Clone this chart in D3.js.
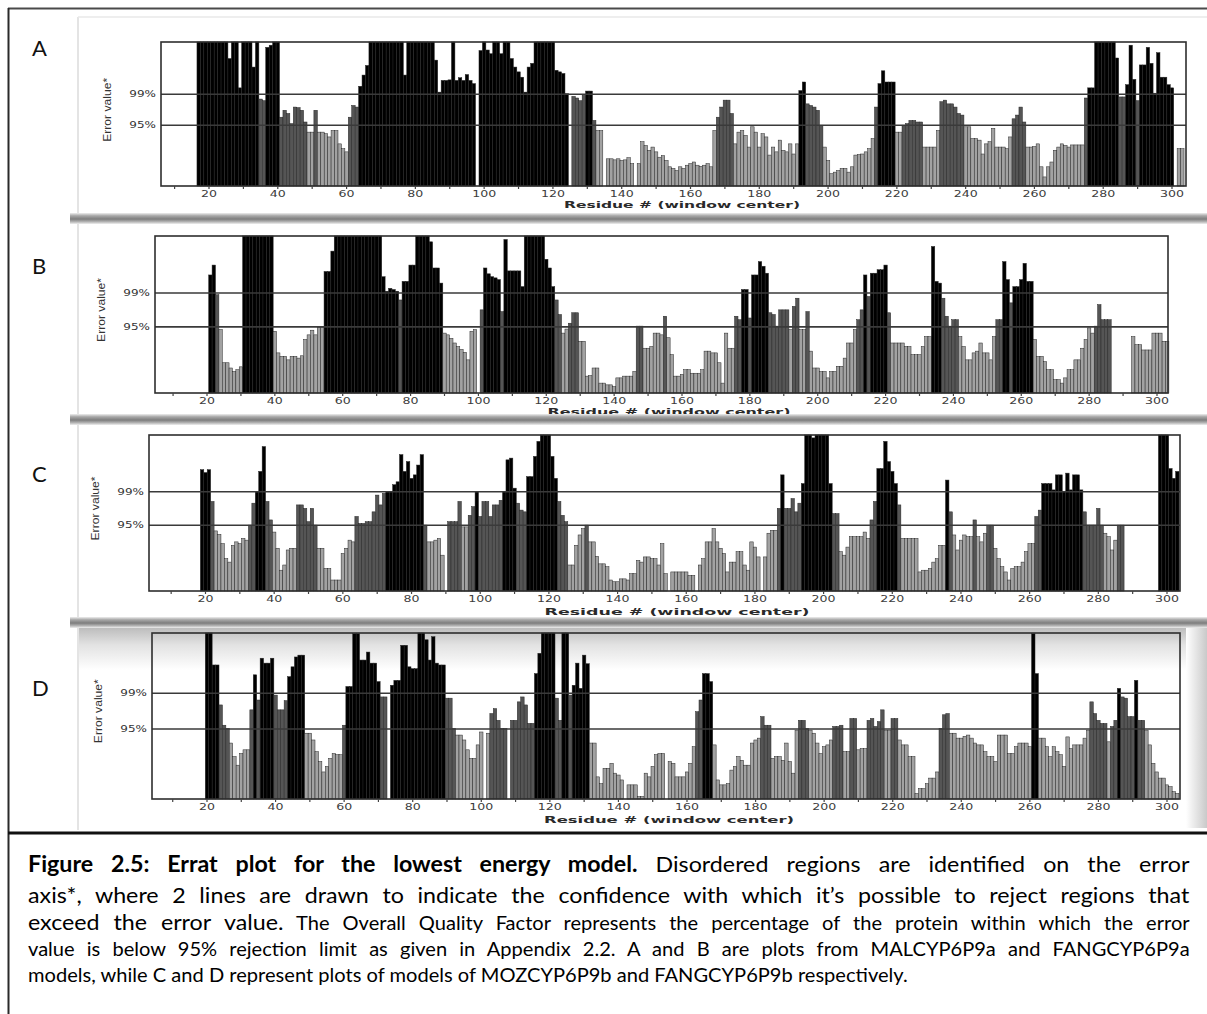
<!DOCTYPE html>
<html><head><meta charset="utf-8">
<script src="https://cdn.jsdelivr.net/npm/d3@7"></script>
<style>body{margin:0;background:#fff}svg{display:block}</style>
</head><body><div id="chart"></div>
<script>
// ---------------- DATA ----------------
const panelLabels = ["A", "B", "C", "D"];
const residueStart = [17, 21, 19, 20];

const valuesA = [27,27,27,27,27,27,27,27,27,23.9,27,27,18.4,27,27,27,22.3,27,16.3,16,26,26.4,27,27,
12.9,14.2,13.6,11.7,14.8,14.7,14.2,12,10.1,10.1,14.2,10.1,10.1,9.8,9.2,10.4,10.4,7.9,7,6.4,12.9,15.1,14.8,18.7,20.8,22.6,
27,27,27,27,27,27,27,27,27,27,20.8,27,27,27,27,27,27,27,27,
23.6,17.6,19.8,19.8,19.9,27,19.8,20.3,19.8,20.9,19.8,19.2,0,
25.4,27,25.5,24.8,27,27,24.8,27,27,23.9,22.3,21.4,20.4,17.6,22.3,23,27,27,27,27,27,27,
21.7,21.4,21.1,17.3,0,16.8,16.5,16,17,17.8,17.8,
12.3,10.4,10.4,0,5.1,5.1,4.9,5.1,4.8,4.9,5.3,4.2,0,4.2,8.3,7.6,6.7,7.3,6.4,5.4,5.7,4.8,3.6,3.3,2.9,3.6,3.3,3.9,4.2,4.5,3.9,3.7,3.9,4.2,3.6,
10.4,12.9,14.8,16.1,16.1,13.6,7.9,10.1,10.4,9.5,7.3,11.1,10.1,7.3,9.8,9.2,5.8,7.3,6.4,8.6,6.7,6.4,7.9,6,7.9,
17.9,19.5,15.4,15.1,14.8,14.2,11.4,7.3,4.8,2.3,2.6,2.9,3.3,3.3,2.6,3.6,5.8,5.9,6,6.4,7,8.9,
14.8,19.2,21.6,19.5,19.5,19.5,10.1,10.1,11.4,11.7,12.3,12.3,12,12,7.3,7.3,7.3,7.3,10.4,
15.8,16.1,15.4,15.4,14.8,13.6,13.3,11.1,11.1,8.9,8.9,8.6,6,7.9,8.3,10.8,7.3,7.3,7.3,7,9.2,
12.6,13.3,14.8,12,7.3,7.3,7.4,7.9,3.6,1.7,3.6,4.5,6.7,7.3,7.9,7.6,
7.3,7.7,7.7,7.7,7.7,16.5,18.4,18.4,27,27,27,27,27,27,24,16.7,16.7,19,26.4,20,16,22.7,22.7,26,23,17.4,25,20.4,20.4,19,18.4,0,7,7];

const valuesB = [20.3,22,16.9,10.9,5.2,5.2,4.3,3.7,4,4.5,
27,27,27,27,27,27,27,27,27,
10.6,6.9,6.3,6.3,5.7,6.3,6.3,6,6.4,9.2,10,10.8,10,11.3,11.3,20.9,20.9,24.4,
27,27,27,27,27,27,27,27,27,27,27,27,27,27,
20,17.5,18,17.8,17.5,16,19.2,19.2,22,22,27,27,27,27,
26,21.5,21.5,18.9,10.3,10,9.4,8.6,8,7.5,7,5.7,10.6,10.9,0,14.3,21.5,20.5,20,19.8,19.5,14,26.4,21,21,21,21,18.3,
27,27,27,27,27,27,
23,21.5,18.3,16,13.5,10.3,11,12,13.8,13.8,8.9,8.9,2.9,3,4.3,
4.3,1.7,1.7,1.4,1.4,1.1,2.6,2.6,2.9,2.9,2.9,3.7,11.5,11.5,7.7,7.7,8,10.3,10.3,10,13.2,9.5,6.6,2.9,2.9,3.2,4,4,3.4,3.4,3.4,4,
7.2,7.2,6.9,6.9,5.2,1.7,10.3,7.7,7.7,13.2,12.6,17.8,17.8,12.9,20.3,20.3,22.6,21.8,20.6,13.8,13.5,11.5,14.3,14.3,14.3,10.9,14.9,16.3,10.9,10.9,14,7.2,
4.3,4.3,3.7,3.7,2.6,3.7,3.7,4.6,4.6,6,8.6,8.6,10.9,12.6,14.3,20.3,16.6,20.6,20.6,21.2,21.2,22,13.8,8.6,8.6,8.6,8.6,8,8,6.6,6.6,6.6,8,9.7,9.7,
25.2,19.2,18.9,16.3,13.2,11.5,12.6,12.6,9.7,8,5.7,5.7,6.9,7.2,8.6,6.9,6.9,5.7,9.7,12.6,12.6,22.6,19.5,15.5,18.3,18.3,19.5,22.3,19.2,19.2,
9.2,6.3,6.3,5.4,4,4,2.3,2.3,1.7,2.6,4,4,5.7,5.7,7.7,9.2,11.2,10.3,11.5,15.2,12.6,12.6,12.6,
null,null,null,null,null,null,
9.7,8.3,8.3,7.4,7.4,7.4,10.3,10.3,10.3,8.9,8.9];

const valuesC = [21,20.5,21,15.5,10.4,9.8,8.2,5.6,5,7.9,8.5,8.2,9.1,8.8,11.4,
15.2,17.2,20.7,25,15.5,12.3,10.2,7.4,3.6,4.5,7.1,7.4,7.4,14.9,14.9,14.3,12,14.3,11.4,7.4,7.4,3.9,3.9,1.9,1.9,1.9,6.5,7.4,8.8,8.5,
12.9,11.7,11.7,12,12,13.7,16.6,14.9,16.9,17.2,17.2,18.4,18.9,23.6,20.7,22.4,19.5,20.1,21.8,23.6,11.4,8.5,8.5,8.8,9.1,6.2,0,
12,12,12,15.5,11.1,11.1,13.1,14.6,17.2,12.9,15.5,15.5,12.9,14.9,14.9,15.7,17.2,22.7,23,17.8,15.2,14,13.7,19.8,19.8,23.3,25.9,
27,27,27,
23.3,19.5,15.5,13.1,12,4.5,4.5,7.9,9.7,10.8,11.4,8.5,8.5,6,
4.7,4.7,4.2,1.9,1.6,1.6,2.1,2.1,1.9,3,3,5.3,5,5.9,5.9,5.6,5.6,4.5,8.2,3,0,3.3,3.3,3.3,3.3,3.3,2.7,2.7,0,4.5,5.6,8.5,
8.5,10.8,8.5,7.4,6.5,3.3,5,5,6.8,6.8,4.5,3.6,8.5,7.6,5.9,0,5.9,10,10.5,10.5,14.3,20.1,14.3,14.3,16,13.7,15.2,18.6,
27,27,26.5,27,27,27,27,
18.6,13.4,13.4,6.8,6.2,7.6,9.4,9.4,9.4,9.4,10.2,9.1,12.3,15.5,21.2,21.2,25.9,22.4,20.7,18.6,14.9,9.1,9.1,9.1,9.1,9.1,3.3,3.6,3.6,3.9,5,5.6,7.9,7.9,
19.2,13.7,9.7,7.1,8.8,9.7,9.4,9.4,12.3,9.4,8.5,10,11.4,11.4,7.4,5.6,4.2,3.3,1.9,3.9,4.2,4.2,5,6.8,8.2,8.2,12.9,14,
18.6,18.6,18.6,17.5,20.1,20.1,17.2,20.4,17.5,20.1,20.1,17.5,13.7,11.4,11.4,11.4,14.3,11.4,10,9.4,7.1,8.8,11.4,11.4,
null,null,null,null,null,null,null,null,null,null,
27,27,27,21.2,19.5,20.7];

const valuesD = [27,27,21.8,21.8,15.3,12,11.5,9.1,6.9,5.5,7.4,8,8,14.5,20.2,16.1,22.9,22.1,22.1,22.9,16.9,14.5,14.5,16,19.9,21.5,23.1,23.4,23.4,
10.7,10.7,9.6,7.7,6.1,4.4,5.3,6.6,7.4,7.2,7.2,12,18.3,18.3,26.9,26.9,22.6,22.6,23.9,22.1,22.1,19.1,16.6,16.6,
0,
18.5,19.3,19.3,25,25,21.5,21.2,21.2,27,27,25.9,22.6,26.4,22.1,21.8,21.8,16.4,16.4,11.5,10.4,10.4,9.6,8,6.6,6.6,8.8,10.9,
0,
10.7,13.9,14.7,12.8,11.5,11.5,
0,
12.8,12.8,15.8,16.6,15.3,12.3,12.3,20.4,23.7,27,27,27,27,16.4,12.8,27,27,16.9,18.5,22.1,18,23.4,22,9.1,9.1,
3.6,2.5,5,5,5.8,4.2,3.9,3.1,0,2.3,2.3,2.3,0.4,0.4,4.2,3.6,5.3,7.2,7.4,7.4,0,6.1,5.8,3.6,3.6,3.6,4.4,5.8,8.5,
14.2,16.1,20.4,20.4,19.1,8.8,3.1,2.3,2.3,2.5,4.7,5.3,6.9,6.3,5.5,5.5,9.1,9.6,9.9,13.4,12,12,6.6,6.9,6.9,6.3,9.1,6.1,4.2,
11.2,12.8,12.8,11.5,11.2,10.7,9.1,7.4,8.5,8.8,9.6,11.8,11.8,12,7.7,7.7,13.1,13.1,8,8.2,8.2,12.8,13.1,11.8,12.6,14.5,11.2,11.2,13.1,13.1,9.6,8.8,8.8,6.9,6.9,
0.9,1.7,1.7,2.5,3.4,3.4,4.4,11.5,13.7,13.9,10.7,10.7,9.9,9.9,10.2,10.4,9.9,9.1,8.8,8.8,7.7,6.9,6.9,6.1,10.4,10.4,10.4,7.4,7.4,8.5,9.1,9.1,9.1,8.5,
26.9,20.4,9.9,9.9,8.5,6.9,8.5,7.7,7.2,5.3,10.1,8.2,8.8,8.8,8.8,9.9,11.2,15.8,13.9,12.8,12.3,12.3,9.3,11.8,12.8,18,16.6,16.4,13.4,13.4,19.3,12.8,12.8,11.2,8.8,5.8,4.4,3.4,3.4,2.3,2,1.2,0.9];

const panelValues = [valuesA, valuesB, valuesC, valuesD];

const xTickValues = [20,40,60,80,100,120,140,160,180,200,220,240,260,280,300];
const xMinorTicks = [10,30,50,70,90,110,130,150,170,190,210,230,250,270,290];
const thresholdValues = [17.19, 11.38];
const thresholdLabels = ["99%", "95%"];
const yAxisTitle = "Error value*";
const xAxisTitle = "Residue # (window center)";
const yMax = 27;

const captionLines = [
  [{t:"Figure 2.5: Errat plot for the lowest energy model.", b:true, s:22}, {t:" Disordered regions are identified on the error", b:false, s:22}],
  [{t:"axis*, where 2 lines are drawn to indicate the confidence with which it\u2019s possible to reject regions that", b:false, s:22}],
  [{t:"exceed the error value.", b:false, s:22}, {t:" The Overall Quality Factor represents the percentage of the protein within which the error", b:false, s:19}],
  [{t:"value is below 95% rejection limit as given in Appendix 2.2. A and B are plots from MALCYP6P9a and FANGCYP6P9a", b:false, s:19}],
  [{t:"models, while C and D represent plots of models of MOZCYP6P9b and FANGCYP6P9b respectively.", b:false, s:19}]
];

// ---------------- LAYOUT ----------------
const W = 1207, H = 1014;
const boxes = [
  {left:161, right:1186, top:42,  bottom:186, x20:209,   x300:1172, letterY:56,  titleDy:21.5, titleX:682, titleW:236},
  {left:155, right:1168, top:236, bottom:393, x20:207,   x300:1157, letterY:274, titleDy:22, titleX:669, titleW:243},
  {left:149, right:1180, top:435, bottom:591, x20:205.5, x300:1167, letterY:482, titleDy:24, titleX:677, titleW:265},
  {left:152, right:1180, top:633, bottom:799, x20:207,   x300:1167, letterY:696, titleDy:24, titleX:669, titleW:250}
];
const panelImg = [[17,213],[224,414],[425,617],[628,830]];
const sxText = 1.4;

const svg = d3.select("#chart").append("svg").attr("width", W).attr("height", H)
  .style("font-family", "'DejaVu Sans', sans-serif");
svg.append("rect").attr("width", W).attr("height", H).attr("fill", "#fff");

const defs = svg.append("defs");
const sep = defs.append("linearGradient").attr("id","sepGrad").attr("x1",0).attr("y1",0).attr("x2",0).attr("y2",1);
[[0,"#eeeeee"],[0.25,"#a8a8a8"],[0.55,"#7d7d7d"],[0.8,"#b5b5b5"],[1,"#efefef"]].forEach(([o,c]) =>
  sep.append("stop").attr("offset", o).attr("stop-color", c));
const shade = defs.append("linearGradient").attr("id","shadeGrad").attr("x1",0).attr("y1",0).attr("x2",0).attr("y2",1);
[[0,"#bdbdbd"],[0.4,"#e2e2e2"],[1,"#ffffff"]].forEach(([o,c]) =>
  shade.append("stop").attr("offset", o).attr("stop-color", c));
const rshade = defs.append("linearGradient").attr("id","rshadeGrad").attr("x1",0).attr("y1",0).attr("x2",1).attr("y2",0);
[[0,"#ffffff"],[1,"#c9c9c9"]].forEach(([o,c]) =>
  rshade.append("stop").attr("offset", o).attr("stop-color", c));

// panel D top shading & right shadow
svg.append("rect").attr("x", 78).attr("y", 628).attr("width", W - 78).attr("height", 42).attr("fill", "url(#shadeGrad)");
svg.append("rect").attr("x", 1186).attr("y", 628).attr("width", W - 1186).attr("height", 200).attr("fill", "url(#rshadeGrad)");

// faint panel image edges
panelImg.forEach(([y0, y1]) => {
  svg.append("line").attr("x1", 78).attr("x2", 78).attr("y1", y0).attr("y2", y1)
    .attr("stroke", "#e4e4e4").attr("stroke-width", 2);
});
svg.append("line").attr("x1", 78).attr("x2", W).attr("y1", 17).attr("y2", 17).attr("stroke", "#e8e8e8").attr("stroke-width", 1.5);

function barColor(v) {
  if (v >= thresholdValues[0]) return "#000000";
  if (v >= thresholdValues[1]) return "#555555";
  return "#a2a2a2";
}

function stretched(g, x, y, str, size, anchor, weight, fill, sx) {
  return g.append("text")
    .attr("transform", `translate(${x},${y}) scale(${sx},1)`)
    .attr("text-anchor", anchor)
    .attr("font-size", size)
    .attr("font-weight", weight)
    .attr("fill", fill)
    .text(str);
}

boxes.forEach((b, i) => {
  const g = svg.append("g");
  const start = residueStart[i];
  const data = panelValues[i].map((v, k) => ({r: start + k, v: v}))
    .filter(d => d.v !== null && d.v > 0);

  const x = d3.scaleLinear().domain([20, 300]).range([b.x20, b.x300]);
  const y = d3.scaleLinear().domain([0, yMax]).range([b.bottom, b.top]).clamp(true);
  const bw = (b.x300 - b.x20) / 280;

  // bars
  g.append("g").selectAll("rect").data(data).join("rect")
    .attr("x", d => x(d.r) - bw / 2)
    .attr("y", d => y(d.v))
    .attr("width", bw)
    .attr("height", d => b.bottom - y(d.v))
    .attr("fill", d => barColor(d.v))
    .attr("stroke", "#262626")
    .attr("stroke-width", 0.5);

  // threshold lines
  thresholdValues.forEach((t, k) => {
    g.append("line").attr("x1", b.left).attr("x2", b.right).attr("y1", y(t)).attr("y2", y(t))
      .attr("stroke", "#3a3a3a").attr("stroke-width", 1.6);
    stretched(g, b.left - 5, y(t) + 3, thresholdLabels[k], 8, "end", "normal", "#333", 1.5);
  });

  // box
  g.append("rect").attr("x", b.left).attr("y", b.top).attr("width", b.right - b.left).attr("height", b.bottom - b.top)
    .attr("fill", "none").attr("stroke", "#2e2e2e").attr("stroke-width", 1.6);

  // x axis ticks
  const ticks = xMinorTicks.concat(xTickValues).filter(t => x(t) > b.left && x(t) < b.right);
  g.append("g").selectAll("line").data(ticks).join("line")
    .attr("x1", d => x(d)).attr("x2", d => x(d))
    .attr("y1", b.bottom).attr("y2", b.bottom + 3)
    .attr("stroke", "#444").attr("stroke-width", 1.2);
  xTickValues.forEach(t => stretched(g, x(t), b.bottom + 11, String(t), 9, "middle", "normal", "#3c3c3c", sxText));

  // x axis title
  g.append("text").attr("x", b.titleX).attr("y", b.bottom + b.titleDy)
    .attr("text-anchor", "middle").attr("font-size", 9.5).attr("font-weight", "bold").attr("fill", "#2a2a2a")
    .attr("textLength", b.titleW).attr("lengthAdjust", "spacingAndGlyphs")
    .text(xAxisTitle);

  // y axis title
  const ym = (y(thresholdValues[0]) + y(thresholdValues[1])) / 2;
  g.append("text")
    .attr("transform", `translate(${b.left - 50},${ym}) rotate(-90)`)
    .attr("text-anchor", "middle").attr("font-size", 10.5)
    .attr("font-family", "'Liberation Sans', Arial, sans-serif").attr("fill", "#333")
    .attr("textLength", 64).attr("lengthAdjust", "spacingAndGlyphs")
    .text(yAxisTitle);

  // panel letter
  svg.append("text").attr("x", 32).attr("y", b.letterY)
    .attr("font-family", "Lato, 'Open Sans', sans-serif").attr("font-size", 22).attr("fill", "#111")
    .text(panelLabels[i]);
});

// separator bands
[[213, 11], [414, 11], [617, 11]].forEach(([yy, hh]) => {
  svg.append("rect").attr("x", 70).attr("y", yy).attr("width", W - 70).attr("height", hh).attr("fill", "url(#sepGrad)");
});

// frame
svg.append("line").attr("x1", 8).attr("x2", W).attr("y1", 8.5).attr("y2", 8.5).attr("stroke", "#4a4a4a").attr("stroke-width", 2);
svg.append("line").attr("x1", 8.5).attr("x2", 8.5).attr("y1", 8).attr("y2", H).attr("stroke", "#2a2a2a").attr("stroke-width", 2);
svg.append("line").attr("x1", 8).attr("x2", W).attr("y1", 833).attr("y2", 833).attr("stroke", "#111").attr("stroke-width", 3);

// caption: common glyph condensation, justified lines via word spacing
const capX = 28, capBaselines = [872, 903, 930, 956, 982], capWidths = [1162, 1162, 1162, 1162, 880];
const capJustify = [true, true, true, true, false];
const capGroups = captionLines.map(segs => {
  const lg = svg.append("g");
  const t = lg.append("text").attr("x", 0).attr("y", 0)
    .attr("font-family", "Lato, 'Open Sans', sans-serif").attr("fill", "#000")
    .style("white-space", "pre");
  segs.forEach(s => t.append("tspan").attr("font-size", s.s).attr("font-weight", s.b ? "bold" : "normal").text(s.t));
  return {lg, t, natural: t.node().getComputedTextLength(),
          spaces: segs.map(s => s.t).join("").split(" ").length - 1};
});
const glyphScale = capWidths[4] / capGroups[4].natural;
capGroups.forEach((c, li) => {
  if (capJustify[li]) {
    const extra = Math.max(0, capWidths[li] / glyphScale - c.natural);
    c.t.style("word-spacing", (extra / c.spaces) + "px");
  }
  c.lg.attr("transform", `translate(${capX},${capBaselines[li]}) scale(${glyphScale},1)`);
});
</script>
</body></html>
